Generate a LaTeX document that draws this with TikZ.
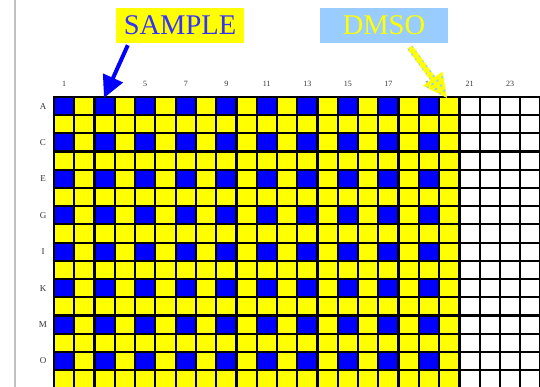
\documentclass[tikz,border=0pt]{standalone}
\usepackage{fontspec}
\setmainfont{Liberation Serif}
\usetikzlibrary{arrows.meta,calc,patterns.meta}
\definecolor{wellblue}{RGB}{0,0,255}
\definecolor{wellyellow}{RGB}{255,255,0}
\definecolor{sampletext}{RGB}{51,51,255}
\definecolor{dmsobg}{RGB}{153,204,255}
\definecolor{sidegray}{RGB}{192,192,192}
\tikzdeclarepattern{
  name=bigdots,
  type=uncolored,
  bottom left={(-3pt,-3pt)},
  top right={(3pt,3pt)},
  tile size={(6pt,6pt)},
  tile transformation={rotate=35},
  code={\pgfpathellipse{\pgfpointorigin}{\pgfpoint{1.7pt}{0pt}}{\pgfpoint{0pt}{1.2pt}}\pgfusepath{fill}}
}
\tikzset{
  gridline/.style={black, line width=2.2pt, line cap=rect},
  collabel/.style={font=\fontsize{8}{9}\selectfont, inner sep=0pt, text=black!80},
  rowlabel/.style={font=\fontsize{9}{10}\selectfont, inner sep=0pt, text=black!80},
  titlebox/.style={minimum width=128pt, minimum height=35pt, inner sep=0pt,
    font=\fontsize{28.5}{30}\selectfont},
}
\def\cw{20.27}
\def\rh{18.2}
\def\gx{54}
\def\gy{97}
\begin{document}
\begin{tikzpicture}[x=1pt,y=-1pt]
\useasboundingbox[fill=white] (0,0) rectangle (540,387);
% side line
\draw[sidegray, line width=2pt] (15,0) -- (15,387);
% wells
\fill[wellyellow] (\gx,\gy) rectangle ({\gx+20*\cw},{\gy+16*\rh});
\foreach \c in {1,3,...,19}
  \foreach \r in {1,3,...,15}
    \fill[wellblue] ({\gx+(\c-1)*\cw},{\gy+(\r-1)*\rh}) rectangle +(\cw,\rh);
% grid
\foreach \k in {0,...,24}
  \draw[gridline] ({\gx+\k*\cw},\gy) -- ({\gx+\k*\cw},{\gy+16*\rh});
\foreach \k in {0,...,16}
  \draw[gridline] (\gx,{\gy+\k*\rh}) -- ({\gx+24*\cw},{\gy+\k*\rh});
% labels
\foreach \c in {1,3,...,23}
  \node[collabel] (col\c) at ({\gx+(\c-0.5)*\cw},84) {\c};
\foreach \r/\l in {1/A,3/C,5/E,7/G,9/I,11/K,13/M,15/O}
  \node[rowlabel] (row\l) at (43,{\gy+(\r-0.5)*\rh}) {\l};
% titles
\node[titlebox, fill=wellyellow, text=sampletext] (sample) at (180,25.5) {SAMPLE};
\node[titlebox, fill=dmsobg, text=wellyellow] (dmso) at (384,25.5) {DMSO};
% sample arrow
\coordinate (sS) at ($(sample.south west)+(12,2)$);
\coordinate (sT) at (104,98);
\draw[wellblue, line width=4pt, -{Triangle[length=22pt,width=21pt]}] (sS) -- (sT);
% dmso arrow
\coordinate (dS) at ($(dmso.south west)+(90,4)$);
\coordinate (dT) at (447,98);
\coordinate (dB) at ($(dT)!24pt!(dS)$);
\path[fill=wellyellow, postaction={pattern=bigdots, pattern color=dmsobg}]
  ($(dS)!3pt!90:(dT)$) -- ($(dB)!3pt!-90:(dS)$) -- ($(dB)!12pt!-90:(dS)$)
  -- (dT) -- ($(dB)!12pt!90:(dS)$) -- ($(dB)!3pt!90:(dS)$)
  -- ($(dS)!3pt!-90:(dT)$) -- cycle;
\end{tikzpicture}
\end{document}
